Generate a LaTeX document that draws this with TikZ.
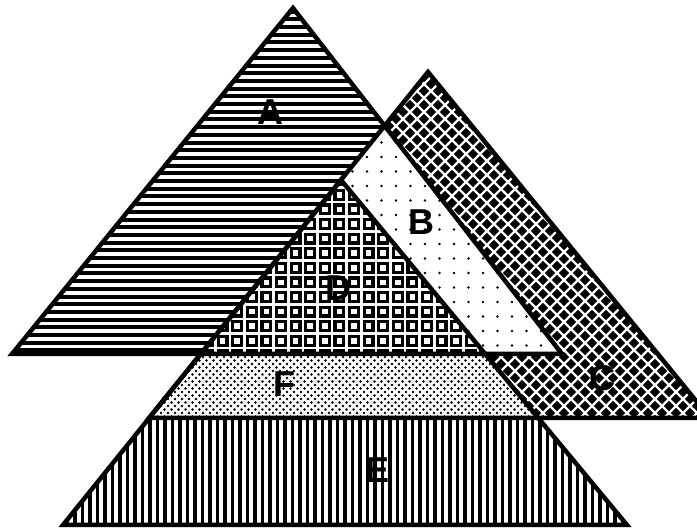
\documentclass[tikz,border=0pt]{standalone}
\usepackage{fontspec}
\setmainfont{Liberation Sans}
\begin{document}
\begin{tikzpicture}[x=1pt,y=-1pt,line join=miter,
  edge/.style={line width=4.5pt},
  hline/.style={line width=4pt},
  vline/.style={line width=3.8pt},
  weave/.style={white,line width=2.4pt},
  ring/.style={line width=3.2pt},
  lab/.style={font=\fontsize{36}{36}\selectfont\bfseries,inner sep=0pt}]
\useasboundingbox (0,0) rectangle (697,529);
\fill[white] (0,0) rectangle (697,529);
\clip (0,0) rectangle (697,529);
% corners
\coordinate (a1) at (293,8);  \coordinate (a2) at (12,354);  \coordinate (a3) at (562,354);
\coordinate (c1) at (428,72); \coordinate (c2) at (149,418); \coordinate (c3) at (710,418);
\coordinate (e1) at (341,180);\coordinate (e2) at (63,525);  \coordinate (e3) at (627,525);
% A : horizontal lines
\begin{scope}
  \clip (a1)--(a2)--(a3)--cycle;
  \foreach \y in {4,11.7,...,360} \draw[hline] (0,\y) -- (697,\y);
\end{scope}
% C : woven crosshatch
\begin{scope}
  \clip (c1)--(c2)--(c3)--cycle;
  \fill[black] (100,60) rectangle (720,430);
  \foreach \k in {-300,-286,...,720} \draw[weave] (\k,60) -- ++(380,380);
  \foreach \k in {140,154,...,1160} \draw[weave] (\k,60) -- ++(-380,380);
\end{scope}
% B : A and C, dotted
\begin{scope}
  \clip (a1)--(a2)--(a3)--cycle;
  \clip (c1)--(c2)--(c3)--cycle;
  \fill[white] (300,100) rectangle (600,360);
  \foreach \x in {338,352.5,...,580} \foreach \y in {128,142.5,...,360} \fill (\x,\y) circle (1.3);
\end{scope}
% E : vertical lines
\begin{scope}
  \clip (e1)--(e2)--(e3)--cycle;
  \fill[white] (50,170) rectangle (640,530);
  \foreach \x in {60,67.5,...,640} \draw[vline] (\x,170) -- (\x,530);
\end{scope}
% F : E and C, fine stipple
\begin{scope}
  \clip (e1)--(e2)--(e3)--cycle;
  \clip (c1)--(c2)--(c3)--cycle;
  \fill[white] (130,170) rectangle (560,420);
  \foreach \x in {140,147,...,560} \foreach \y in {350,357,...,425} {
    \fill (\x,\y) circle (1.3);
    \fill (\x+3.5,\y+3.5) circle (1.3);
  }
\end{scope}
% D : A, C and E, grid of squares
\begin{scope}
  \clip (a1)--(a2)--(a3)--cycle;
  \clip (c1)--(c2)--(c3)--cycle;
  \clip (e1)--(e2)--(e3)--cycle;
  \fill[white] (180,170) rectangle (500,360);
  \foreach \x in {186,200.6,...,500} \foreach \y in {173,187.6,...,360}
    \draw[ring,shift={(\x,\y)}] (2.9,2.9) rectangle (11.7,11.7);
\end{scope}
% outlines
\draw[edge] (a1)--(a2)--(a3)--cycle;
\draw[edge] (c1)--(c2)--(c3)--cycle;
\draw[edge] (e1)--(e2)--(e3)--cycle;
% labels
\node[lab] (lA) at (270,112) {A};
\node[lab] (lB) at (421,222) {B};
\node[lab] (lC) at (602,378) {C};
\node[lab] (lD) at (338,288) {D};
\node[lab] (lE) at (378,470) {E};
\node[lab] (lF) at (284,384) {F};
\end{tikzpicture}
\end{document}
